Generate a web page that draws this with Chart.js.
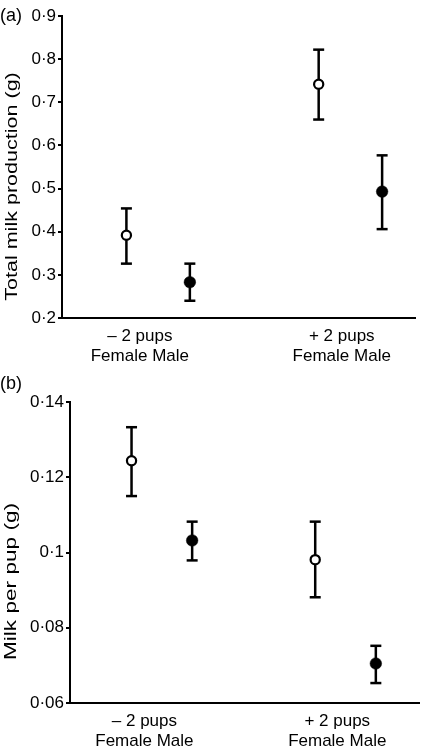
<!DOCTYPE html>
<html><head><meta charset="utf-8">
<script src="https://cdn.jsdelivr.net/npm/chart.js@4"></script>
<style>
html,body{margin:0;padding:0;background:#fff;}
body{width:427px;height:747px;position:relative;overflow:hidden;font-family:"Liberation Sans",Arial,sans-serif;color:#000;}
canvas{position:absolute;left:0;}
.lbl{position:absolute;font-size:18px;line-height:18px;white-space:nowrap;}
.ytitle{position:absolute;font-size:17px;line-height:17px;white-space:nowrap;transform-origin:center center;}
</style></head><body>
<canvas id="ca" width="427" height="370" style="top:0"></canvas>
<canvas id="cb" width="427" height="377" style="top:370px"></canvas>
<div class="lbl" style="left:0;top:6px">(a)</div>
<div class="lbl" style="left:0;top:374px">(b)</div>
<div class="ytitle" id="ta">Total milk production (g)</div>
<div class="ytitle" id="tb">Milk per pup (g)</div>
<script>
// ---- data ----
const groups = ['– 2 pups', '+ 2 pups'];
const sexes = ['Female', 'Male'];
// order of values: Female –2, Male –2, Female +2, Male +2
const totalMean = [0.392, 0.283, 0.742, 0.493];
const totalLow  = [0.326, 0.240, 0.660, 0.406];
const totalHigh = [0.454, 0.326, 0.822, 0.577];
const totalTicks = [0.2, 0.3, 0.4, 0.5, 0.6, 0.7, 0.8, 0.9];

const perPupMean = [0.1244, 0.1032, 0.0981, 0.0705];
const perPupLow  = [0.1150, 0.0979, 0.0881, 0.0653];
const perPupHigh = [0.1333, 0.1082, 0.1082, 0.0752];
const perPupTicks = [0.06, 0.08, 0.1, 0.12, 0.14];

// ---- layout ----
const SEX_OFFSET = 0.165;
const LABEL_OFFSET = [-0.095, -0.045];
const FONT = '"Liberation Sans", Arial, sans-serif';

function fmt(v){ return String(parseFloat(v.toFixed(4))).replace('.', '\u00B7'); }

function makeChart(id, means, lows, highs, ticks, L){
  const xs = means.map((_, i) => Math.floor(i/2) + 1 + (i%2 ? SEX_OFFSET : -SEX_OFFSET));
  const markers = means.map((m, i) => ({x: xs[i], y: m}));
  const caps = [];
  const stems = [];
  means.forEach((m, i) => {
    caps.push({x: xs[i], y: lows[i]}, {x: xs[i], y: highs[i]});
    stems.push({x: xs[i], y: lows[i]}, {x: xs[i], y: highs[i]}, {x: xs[i], y: null});
  });
  return new Chart(document.getElementById(id), {
    type: 'scatter',
    data: { datasets: [
      { data: markers, order: 0, showLine: false,
        pointRadius: means.map((_, i) => i%2 ? 5.8 : 4.6),
        pointBackgroundColor: means.map((_, i) => i%2 ? '#000' : '#fff'),
        pointBorderColor: '#000',
        pointBorderWidth: means.map((_, i) => i%2 ? 0.5 : 2.2) },
      { data: caps, order: 1, showLine: false, pointStyle: 'line',
        pointRadius: 5.5, pointBorderWidth: 2.5, pointBorderColor: '#000', borderColor: '#000' },
      { data: stems, order: 2, showLine: true, spanGaps: false,
        borderColor: '#000', borderWidth: 2.5, pointRadius: 0 }
    ]},
    options: {
      responsive: false, animation: false, events: [], devicePixelRatio: 1,
      layout: { padding: { left: 0, right: L.padRight, top: L.padTop, bottom: 0 } },
      plugins: { legend: { display: false }, tooltip: { enabled: false } },
      scales: {
        x: {
          type: 'linear', position: 'bottom', min: L.xMin, max: L.xMax,
          border: { display: true, color: '#000', width: 2 },
          grid: { display: false },
          afterBuildTicks: s => { s.ticks = groups.map((g, i) => ({ value: i + 1 + LABEL_OFFSET[i] })); },
          afterFit: s => { s.height = L.xHeight; },
          ticks: { autoSkip: false, maxRotation: 0, color: '#000', padding: L.xPad,
            font: { family: FONT, size: 17, lineHeight: 1.18 },
            callback: (v, i) => [groups[i], sexes.join(' ')] }
        },
        y: {
          type: 'linear', min: ticks[0], max: ticks[ticks.length-1],
          border: { display: true, color: '#000', width: 2 },
          grid: { display: true, drawOnChartArea: false, drawTicks: true, tickLength: 4,
                  tickColor: '#000', tickWidth: 2, color: '#000', lineWidth: 2 },
          afterBuildTicks: s => { s.ticks = ticks.map(v => ({ value: v })); },
          afterFit: s => { s.width = L.yWidth; },
          ticks: { color: '#000', padding: 2, font: { family: FONT, size: 17 },
            callback: v => fmt(v) }
        }
      }
    }
  });
}

makeChart('ca', totalMean, totalLow, totalHigh, totalTicks,
  { yWidth: 62, padTop: 16, padRight: 12, xHeight: 52, xMin: 0.5, xMax: 2.336, xPad: 0 });
makeChart('cb', perPupMean, perPupLow, perPupHigh, perPupTicks,
  { yWidth: 70, padTop: 32, padRight: 4, xHeight: 44, xMin: 0.5, xMax: 2.4, xPad: 0 });

function placeTitle(id, cx, cy, len){
  const el = document.getElementById(id);
  const w = el.offsetWidth, h = el.offsetHeight;
  el.style.left = (cx - w/2) + 'px';
  el.style.top = (cy - h/2) + 'px';
  el.style.transform = 'rotate(-90deg) scaleX(' + (len / w) + ')';
}
placeTitle('ta', 10.5, 186, 228);
placeTitle('tb', 10, 581, 157);
</script>
</body></html>
